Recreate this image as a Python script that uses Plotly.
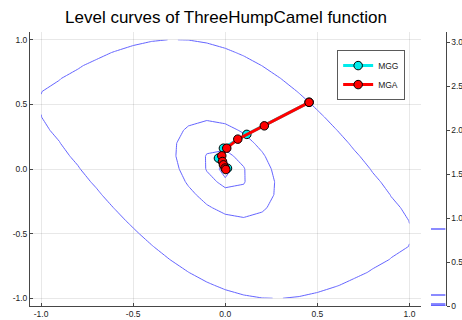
import numpy as np
import plotly.graph_objects as go

# ---- data ----
def three_hump_camel(x, y):
    return 2 * x**2 - 1.05 * x**4 + x**6 / 6 + x * y + y**2

grid_x = np.round(np.arange(-1.0, 1.0001, 0.1), 10)
grid_y = np.round(np.arange(-1.0, 1.0001, 0.1), 10)
Z = np.array([[three_hump_camel(xx, yy) for xx in grid_x] for yy in grid_y])

# contour levels (function values along the MGG iterates)
levels = [0.8745, 0.125, 0.0235, 0.0067, 0.0006]

mgg_x = [0.455, 0.117, -0.010, -0.037, 0.012]
mgg_y = [0.516, 0.268, 0.161, 0.084, 0.006]

mga_x = [0.455, 0.212, 0.068, 0.008, -0.019, -0.015, -0.010, -0.001, 0.003]
mga_y = [0.516, 0.334, 0.231, 0.161, 0.102, 0.058, 0.032, 0.007, -0.004]

x_ticks = [-1.0, -0.5, 0.0, 0.5, 1.0]
x_tick_text = ["-1.0", "-0.5", "0.0", "0.5", "1.0"]
cb_ticks = [0, 0.5, 1.0, 1.5, 2.0, 2.5, 3.0]
cb_tick_text = ["0", "0.5", "1.0", "1.5", "2.0", "2.5", "3.0"]

# ---- style ----
FONT = "Liberation Sans, Arial, sans-serif"
LEVEL_COLOR = "rgb(100,100,255)"
AXIS_COLOR = "rgb(70,70,70)"
GRID_COLOR = "rgba(0,0,0,0.09)"

fig = go.Figure()

for lv in levels:
    fig.add_trace(go.Contour(
        x=grid_x, y=grid_y, z=Z,
        contours=dict(start=lv, end=lv, size=1, coloring="none"),
        line=dict(color=LEVEL_COLOR, width=1, smoothing=0),
        showscale=False, showlegend=False, hoverinfo="skip",
        xaxis="x", yaxis="y",
    ))

fig.add_trace(go.Scatter(
    x=mgg_x, y=mgg_y, mode="lines+markers", name="MGG",
    line=dict(color="rgb(0,235,235)", width=3),
    marker=dict(size=8.5, color="rgb(0,235,235)", line=dict(color="black", width=1)),
))
fig.add_trace(go.Scatter(
    x=mga_x, y=mga_y, mode="lines+markers", name="MGA",
    line=dict(color="rgb(255,0,0)", width=3),
    marker=dict(size=8.5, color="rgb(255,0,0)", line=dict(color="black", width=1)),
))

# colorbar drawn as its own little axis: one line per level
zmax = float(Z.max())
for lv in levels:
    fig.add_trace(go.Scatter(
        x=[0, 1], y=[lv, lv], mode="lines",
        line=dict(color=LEVEL_COLOR, width=1.5),
        showlegend=False, hoverinfo="skip",
        xaxis="x2", yaxis="y2",
    ))

axis_common = dict(
    showline=True, linecolor=AXIS_COLOR, linewidth=1,
    showgrid=True, gridcolor=GRID_COLOR, gridwidth=1,
    zeroline=False, ticks="inside", ticklen=3, tickcolor=AXIS_COLOR,
    tickfont=dict(family=FONT, size=8.5, color="#222"),
    mirror=False,
)

fig.update_layout(
    width=462, height=320,
    margin=dict(l=30, r=0, t=32, b=14),
    paper_bgcolor="white", plot_bgcolor="white",
    title=dict(text="Level curves of ThreeHumpCamel function",
               x=0.4537, xref="paper", xanchor="center",
               y=1 - 17 / 320, yref="container", yanchor="middle",
               font=dict(family=FONT, size=17, color="black")),
    xaxis=dict(domain=[0, 0.904], range=[-1.06, 1.06],
               tickvals=x_ticks, ticktext=x_tick_text, **axis_common),
    yaxis=dict(domain=[0, 1], range=[-1.06, 1.06],
               tickvals=x_ticks, ticktext=x_tick_text, **axis_common),
    xaxis2=dict(domain=[0.928, 0.962], range=[0, 1], visible=False, anchor="y2"),
    yaxis2=dict(domain=[0, 1], range=[0, zmax], anchor="x2", side="right",
                showline=True, linecolor=AXIS_COLOR, linewidth=1,
                showgrid=False, zeroline=False,
                ticks="outside", ticklen=3, tickcolor=AXIS_COLOR,
                tickvals=cb_ticks, ticktext=cb_tick_text,
                tickfont=dict(family=FONT, size=8.5, color="#222")),
    legend=dict(x=0.711, y=0.934, xanchor="left", yanchor="top",
                bgcolor="white", bordercolor="rgb(90,90,90)", borderwidth=1,
                font=dict(family=FONT, size=8.5, color="#222"),
                tracegroupgap=0),
    showlegend=True,
)

fig.write_html("out.html")
